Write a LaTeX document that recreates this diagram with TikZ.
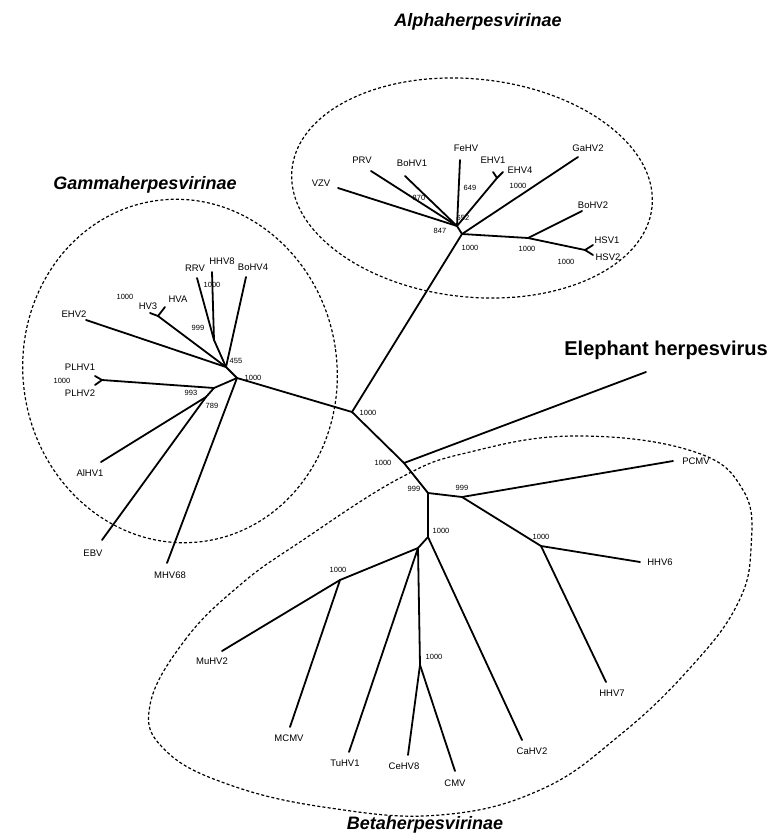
\documentclass[tikz,border=0pt]{standalone}
\usepackage{fontspec}
\setmainfont{Liberation Sans}
\usetikzlibrary{positioning,calc}
\tikzset{
  branch/.style={line width=1.8pt, line cap=round, line join=round},
  taxon/.style={font=\fontsize{9.5}{9.5}\selectfont, inner sep=0pt},
  boot/.style={font=\fontsize{7.5}{7.5}\selectfont, inner sep=0pt},
  clade/.style={font=\fontsize{18}{18}\selectfont\bfseries\itshape, inner sep=0pt},
  group/.style={line width=1.2pt, dash pattern=on 3pt off 2.2pt}
}

\begin{document}
\begin{tikzpicture}[x=1pt,y=-1pt]
  \useasboundingbox (0,0) rectangle (767,835);

  % Clade outlines
  \draw[group] (472,188) ellipse [x radius=181, y radius=109, rotate=-6];
  \draw[group] (180,371) ellipse [x radius=157, y radius=172, rotate=8];
  \draw[group] plot[smooth cycle, tension=0.7] coordinates {
    (150,705) (185,640) (240,585) (300,542) (400,478) (470,452) (575,436)
    (692,451) (743,490) (751,548) (737,605) (690,668) (620,735) (540,790)
    (440,815) (330,808) (230,785) (165,750)};

  % Clade names
  \node[clade] (alphaname) at (478,22) {Alphaherpesvirinae};
  \node[clade] (gammaname) at (145,185) {Gammaherpesvirinae};
  \node[clade] (betaname) at (425,825) {Betaherpesvirinae};

  % Backbone
  \coordinate (J1) at (352,412);
  \coordinate (J2) at (404,463);
  \coordinate (Eleph) at (646,372);
  \node[font=\fontsize{20}{20}\selectfont\bfseries, inner sep=0pt, anchor=east] (elephname) at (768,350) {Elephant herpesvirus};

  % Alpha internal nodes and tips
  \coordinate (A1) at (462,234);
  \coordinate (A2) at (457,226);
  \coordinate (E0) at (497,178);
  \coordinate (H1) at (528,238);
  \coordinate (H2) at (585,250);
  \foreach \n/\tx/\ty/\lx/\ly in {VZV/338/188/321/183, PRV/371/171/362/160,
      BoHV1/405/176/412/163, FeHV/460/160/466/148, EHV1/493/172/493/160,
      EHV4/503/172/520/170, GaHV2/578/157/588/148, BoHV2/582/211/593/205,
      HSV1/593/245/607/240, HSV2/593/255/608/257} {
    \coordinate (\n) at (\tx,\ty);
    \node[taxon] (l\n) at (\lx,\ly) {\n};
  }

  % Gamma internal nodes and tips
  \coordinate (G1) at (237,378);
  \coordinate (G2) at (226,367);
  \coordinate (G3) at (214,388);
  \coordinate (G4) at (206,397);
  \coordinate (R) at (214,340);
  \coordinate (V) at (158,316);
  \coordinate (P) at (102,380);
  \foreach \n/\tx/\ty/\lx/\ly in {HHV8/212/272/222/261, RRV/197/278/195/268,
      BoHV4/246/277/253/267, HVA/165/307/178/299, HV3/150/313/148/306,
      EHV2/86/320/74/314, PLHV1/95/376/80/367, PLHV2/95/385/80/393,
      AlHV1/101/462/90/473, EBV/102/540/93/553, MHV68/167/563/170/575} {
    \coordinate (\n) at (\tx,\ty);
    \node[taxon] (l\n) at (\lx,\ly) {\n};
  }

  % Beta internal nodes and tips
  \coordinate (B0) at (428,493);
  \coordinate (B1) at (462,497);
  \coordinate (B2) at (541,546);
  \coordinate (B3) at (428,537);
  \coordinate (B4) at (418,548);
  \coordinate (B5) at (340,580);
  \coordinate (B6) at (420,665);
  \foreach \n/\tx/\ty/\lx/\ly in {PCMV/673/461/696/461, HHV6/640/562/660/562,
      HHV7/606/682/612/693, CaHV2/522/740/532/751, MuHV2/222/651/212/661,
      MCMV/290/727/289/738, TuHV1/349/752/345/763, CeHV8/408/755/404/766,
      CMV/455/771/455/783} {
    \coordinate (\n) at (\tx,\ty);
    \node[taxon] (l\n) at (\lx,\ly) {\n};
  }

  % Branches
  \foreach \a/\b in {J1/J2, J2/Eleph, J2/B0, J1/A1, J1/G1,
      A1/A2, A2/VZV, A2/PRV, A2/BoHV1, A2/FeHV, A2/E0, E0/EHV1, E0/EHV4,
      A1/GaHV2, A1/H1, H1/BoHV2, H1/H2, H2/HSV1, H2/HSV2,
      G1/G2, G1/G3, G1/MHV68, G2/BoHV4, G2/R, R/RRV, R/HHV8, G2/V,
      V/HVA, V/HV3, G2/EHV2, G3/P, P/PLHV1, P/PLHV2, G3/G4, G4/AlHV1, G4/EBV,
      B0/B1, B0/B3, B1/PCMV, B1/B2, B2/HHV6, B2/HHV7, B3/CaHV2, B3/B4,
      B4/B5, B5/MuHV2, B5/MCMV, B4/TuHV1, B4/B6, B6/CeHV8, B6/CMV}
    \draw[branch] (\a) -- (\b);

  % Bootstrap values
  \foreach \v/\x/\y [count=\i] in {870/419/198, 649/470/188, 1000/518/186,
      652/463/218, 847/440/231, 1000/470/248, 1000/527/249, 1000/566/262,
      1000/125/297, 1000/212/285, 999/198/328, 455/236/361, 1000/253/378,
      1000/62/381, 993/191/393, 789/212/406,
      1000/368/413, 1000/383/463, 999/414/489, 999/462/488, 1000/541/537,
      1000/441/531, 1000/338/570, 1000/434/657}
    \node[boot] (bs\i) at (\x,\y) {\v};
\end{tikzpicture}
\end{document}
